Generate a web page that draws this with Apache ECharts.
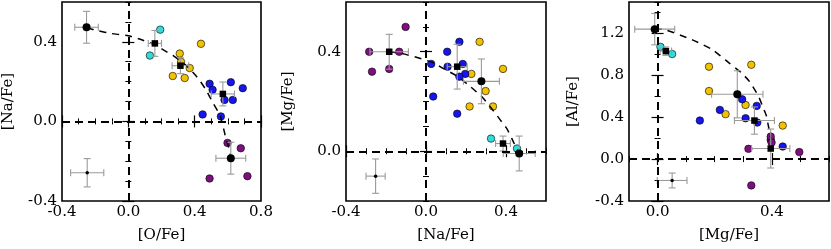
<!DOCTYPE html>
<html><head><meta charset="utf-8">
<script src="https://cdn.jsdelivr.net/npm/echarts@6/dist/echarts.min.js"></script>
<style>html,body{margin:0;padding:0;background:#fff}#c{width:831px;height:249px}</style>
</head><body><div id="c"></div>
<script>
// ---------- Panel 1: [O/Fe] vs [Na/Fe] ----------
const p1XRange = [-0.4, 0.8];
const p1YRange = [-0.4, 0.6];
const p1XTicks = [-0.4, 0.0, 0.4, 0.8];
const p1YTicks = [-0.4, 0.0, 0.4];
const p1Cyan = [[0.192,0.461],[0.13,0.331]];
const p1Gold = [[0.438,0.39],[0.31,0.341],[0.318,0.299],[0.37,0.268],[0.268,0.228],[0.34,0.218]];
const p1Blue = [[0.49,0.189],[0.508,0.159],[0.618,0.197],[0.69,0.167],[0.58,0.108],[0.63,0.108],[0.448,0.035],[0.558,0.025]];
const p1Purple = [[0.598,-0.108],[0.678,-0.135],[0.718,-0.275],[0.49,-0.287]];
const p1MeanCircles = [[-0.252,0.473,0.071,0.08],[0.618,-0.185,0.09,0.08]];
const p1MeanSquares = [[0.16,0.392,0.04,0.065],[0.314,0.28,0.05,0.04],[0.57,0.138,0.07,0.06]];
const p1Sample = [[-0.248,-0.258,0.1,0.071]];
const p1Curve = [[-0.25,0.47],[-0.18,0.455],[-0.106,0.442],[0,0.43],[0.084,0.409],[0.16,0.385],[0.214,0.358],[0.274,0.328],[0.35,0.28],[0.414,0.223],[0.464,0.164],[0.514,0.088],[0.554,0.029],[0.584,-0.07],[0.605,-0.13],[0.618,-0.185]];

// ---------- Panel 2: [Na/Fe] vs [Mg/Fe] ----------
const p2XRange = [-0.4, 0.6];
const p2YRange = [-0.2, 0.6];
const p2XTicks = [-0.4, 0.0, 0.4];
const p2YTicks = [0.0, 0.4];
const p2Cyan = [[0.325,0.051],[0.455,0.011]];
const p2Gold = [[0.268,0.44],[0.385,0.331],[0.227,0.311],[0.298,0.242],[0.218,0.18],[0.335,0.18]];
const p2Blue = [[0.167,0.44],[0.106,0.4],[0.026,0.351],[0.108,0.34],[0.184,0.351],[0.196,0.311],[0.167,0.3],[0.036,0.22],[0.156,0.151]];
const p2Purple = [[-0.102,0.5],[-0.284,0.4],[-0.134,0.4],[-0.27,0.32],[-0.184,0.331]];
const p2MeanCircles = [[0.277,0.281,0.09,0.09],[0.466,-0.009,0.08,0.07]];
const p2MeanSquares = [[-0.184,0.4,0.096,0.07],[0.156,0.34,0.05,0.09],[0.385,0.031,0.037,0.03]];
const p2Sample = [[-0.252,-0.1,0.048,0.069]];
const p2Curve = [[-0.184,0.4],[-0.12,0.393],[-0.04,0.376],[0.038,0.355],[0.088,0.332],[0.155,0.302],[0.222,0.26],[0.285,0.214],[0.338,0.162],[0.372,0.125],[0.405,0.09],[0.438,0.036],[0.466,-0.009]];

// ---------- Panel 3: [Mg/Fe] vs [Al/Fe] ----------
const p3XRange = [-0.1, 0.6];
const p3YRange = [-0.4, 1.5];
const p3XTicks = [0.0, 0.4];
const p3YTicks = [-0.4, 0.0, 0.4, 0.8, 1.2];
const p3Cyan = [[0.01,1.072],[0.051,1.003]];
const p3Gold = [[0.18,0.882],[0.328,0.901],[0.18,0.65],[0.308,0.517],[0.238,0.429],[0.438,0.32]];
const p3Blue = [[0.296,0.571],[0.347,0.508],[0.218,0.47],[0.148,0.368],[0.308,0.39],[0.349,0.349],[0.396,0.185],[0.438,0.12]];
const p3Purple = [[0.396,0.215],[0.399,0.158],[0.318,0.098],[0.496,0.067],[0.328,-0.251]];
const p3MeanCircles = [[-0.01,1.241,0.07,0.15],[0.279,0.619,0.09,0.225]];
const p3MeanSquares = [[0.029,1.031,0.02,0.04],[0.339,0.368,0.07,0.13],[0.396,0.101,0.067,0.186]];
const p3Sample = [[0.051,-0.204,0.052,0.071]];
const p3Curve = [[-0.01,1.241],[0.02,1.238],[0.124,1.136],[0.194,1.041],[0.252,0.914],[0.293,0.825],[0.322,0.74],[0.354,0.596],[0.368,0.5],[0.38,0.42],[0.389,0.3],[0.396,0.2]];

const FONT = 'DejaVu Serif';
const COL = {cyan:'#30DCDC', gold:'#F2C100', blue:'#1515EE', purple:'#7E0F80'};

function fmt(v){ return Number(v).toFixed(1); }

function axisSet(gi, dim, range, ticks, minorStep, name, nameGap){
  const primary = dim === 'x' ? 'bottom' : 'left';
  const opposite = dim === 'x' ? 'top' : 'right';
  const base = {gridIndex: gi, type:'value', min: range[0], max: range[1],
    axisLine:{show:false}, splitLine:{show:false}};
  const major = (pos, withLabel) => Object.assign({}, base, {
    position: pos,
    axisTick:{show:true, inside:true, length:6, customValues: ticks, lineStyle:{color:'#000', width:1.2}},
    axisLabel: withLabel ? {show:true, customValues: ticks, formatter: fmt, fontFamily: FONT, fontSize:15, color:'#000', margin: dim==='x'?4:5}
                         : {show:false},
    name: withLabel ? name : '',
    nameLocation:'middle', nameGap: nameGap,
    nameTextStyle:{fontFamily: FONT, fontSize:15, color:'#000'}
  });
  const minor = (pos) => Object.assign({}, base, {
    position: pos, interval: minorStep,
    axisTick:{show:true, inside:true, length:3, lineStyle:{color:'#000', width:1}},
    axisLabel:{show:false}
  });
  return [major(primary, true), minor(primary), major(opposite, false), minor(opposite)];
}

const grids = [
  {left:61, top:2, width:200, height:199},
  {left:346, top:2, width:200, height:199},
  {left:629, top:2, width:200, height:199}
].map(g => Object.assign(g, {show:true, borderColor:'#000', borderWidth:1.6, backgroundColor:'transparent'}));

const xAxes = [].concat(
  axisSet(0,'x',p1XRange,p1XTicks,0.1,'[O/Fe]',27),
  axisSet(1,'x',p2XRange,p2XTicks,0.1,'[Na/Fe]',27),
  axisSet(2,'x',p3XRange,p3XTicks,0.1,'[Mg/Fe]',27)
);
const yAxes = [].concat(
  axisSet(0,'y',p1YRange,p1YTicks,0.1,'[Na/Fe]',46),
  axisSet(1,'y',p2YRange,p2YTicks,0.1,'[Mg/Fe]',50),
  axisSet(2,'y',p3YRange,p3YTicks,0.2,'[Al/Fe]',48)
);

function errRender(params, api){
  const x = api.value(0), y = api.value(1), xe = api.value(2), ye = api.value(3);
  const l = api.coord([x-xe, y]), r = api.coord([x+xe, y]);
  const t = api.coord([x, y+ye]), b = api.coord([x, y-ye]);
  const cap = 3.5;
  const st = {stroke:'#9a9a9a', lineWidth:1.1};
  const segs = [
    [l[0],l[1],r[0],r[1]], [t[0],t[1],b[0],b[1]],
    [l[0],l[1]-cap,l[0],l[1]+cap], [r[0],r[1]-cap,r[0],r[1]+cap],
    [t[0]-cap,t[1],t[0]+cap,t[1]], [b[0]-cap,b[1],b[0]+cap,b[1]]
  ];
  return {type:'group', children: segs.map(s => ({type:'line', shape:{x1:s[0],y1:s[1],x2:s[2],y2:s[3]}, style:st}))};
}

function panelSeries(gi, cyan, gold, blue, purple, circles, squares, sample, curve){
  const ax = {xAxisIndex: gi*4, yAxisIndex: gi*4};
  const pts = (data, color) => Object.assign({type:'scatter', data, symbol:'circle', symbolSize:7.5, z:2,
    itemStyle:{color, borderColor:'#000', borderWidth:0.6, opacity:1}, silent:true}, ax);
  const blk = (data, symbol, size) => Object.assign({type:'scatter', data, symbol, symbolSize:size, z:5,
    itemStyle:{color:'#000', opacity:1}, silent:true}, ax);
  return [
    Object.assign({type:'line', data: curve, showSymbol:false, smooth:0.2, z:3, silent:true,
      lineStyle:{color:'#000', width:1.5, type:[7,6]},
      markLine:{silent:true, symbol:['none','none'], label:{show:false}, animation:false,
        lineStyle:{color:'#000', width:2, type:[8,5]},
        data:[{xAxis:0},{yAxis:0}]}}, ax),
    pts(cyan, COL.cyan), pts(gold, COL.gold), pts(blue, COL.blue), pts(purple, COL.purple),
    Object.assign({type:'custom', renderItem: errRender, data: circles.concat(squares, sample), z:4,
      encode:{x:0, y:1}, silent:true}, ax),
    blk(circles, 'circle', 8),
    blk(squares, 'rect', 6.5),
    blk(sample, 'circle', 3.5)
  ];
}

const series = [].concat(
  panelSeries(0,p1Cyan,p1Gold,p1Blue,p1Purple,p1MeanCircles,p1MeanSquares,p1Sample,p1Curve),
  panelSeries(1,p2Cyan,p2Gold,p2Blue,p2Purple,p2MeanCircles,p2MeanSquares,p2Sample,p2Curve),
  panelSeries(2,p3Cyan,p3Gold,p3Blue,p3Purple,p3MeanCircles,p3MeanSquares,p3Sample,p3Curve)
);

const chart = echarts.init(document.getElementById('c'), null, {renderer:'canvas'});
chart.setOption({animation:false, backgroundColor:'#fff', grid: grids, xAxis: xAxes, yAxis: yAxes, series});
</script></body></html>
